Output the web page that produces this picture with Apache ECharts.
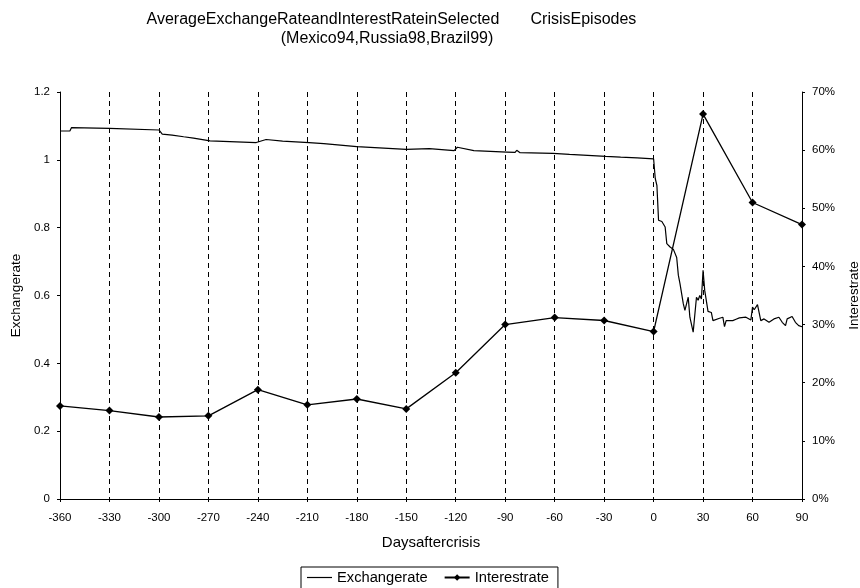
<!DOCTYPE html>
<html>
<head>
<meta charset="utf-8">
<title>Average Exchange Rate and Interest Rate</title>
<script src="https://cdn.jsdelivr.net/npm/echarts@6/dist/echarts.min.js"></script>
<style>
    html, body { margin: 0; padding: 0; background: #fff; }
    #chart { width: 860px; height: 588px; }
</style>
</head>
<body>
<div id="chart"></div>
<script>
// 数据
var dayTicks = [-360, -330, -300, -270, -240, -210, -180, -150, -120, -90, -60, -30, 0, 30, 60, 90];
var interestRate = [16.0, 15.2, 14.1, 14.3, 18.8, 16.2, 17.2, 15.5, 21.7, 30.0, 31.2, 30.7, 28.8, 66.2, 51.0, 47.2];

var excDays = [-360, -354, -353, -330, -300, -298, -292, -285, -279, -269, -241, -235, -225, -209, -200,
    -180, -150, -136, -121, -119, -109, -89, -84, -83, -81, -61, -51, -29, -20, -10, 0,
    1, 2, 3, 5, 7, 8, 10, 12, 14, 15, 16, 18, 19, 21, 22, 24, 26, 27, 28, 29, 30, 31, 33, 35, 36,
    40, 42, 43, 44, 48, 50, 52, 56, 59, 60, 61, 63, 65, 67, 70, 73, 76, 78, 80, 81, 84, 86, 88, 90];
var excRate = [1.085, 1.085, 1.095, 1.093, 1.088, 1.076, 1.073, 1.068, 1.064, 1.056, 1.051, 1.060, 1.055, 1.051, 1.048,
    1.039, 1.031, 1.033, 1.027, 1.037, 1.027, 1.023, 1.022, 1.028, 1.021, 1.019, 1.016, 1.010, 1.008, 1.006, 1.003,
    0.945, 0.925, 0.822, 0.818, 0.802, 0.753, 0.743, 0.736, 0.712, 0.660, 0.635, 0.576, 0.556, 0.595, 0.536, 0.492, 0.595, 0.586, 0.600, 0.590, 0.674, 0.615, 0.553, 0.550, 0.526,
    0.533, 0.536, 0.508, 0.526, 0.526, 0.530, 0.534, 0.536, 0.528, 0.566, 0.558, 0.573, 0.526, 0.531, 0.521, 0.531, 0.536, 0.521, 0.511, 0.531, 0.538, 0.521, 0.511, 0.508];

var leftTicks = ['0', '0.2', '0.4', '0.6', '0.8', '1', '1.2'];

function pairs(xs, ys) {
    var out = [];
    for (var i = 0; i < xs.length; i++) {
        out.push([xs[i], ys[i]]);
    }
    return out;
}

var FONT = 'Liberation Sans';

var myChart = echarts.init(document.getElementById('chart'), null, { renderer: 'canvas' });
var option = {
    animation: false,
    backgroundColor: '#fff',
    textStyle: { fontFamily: FONT, color: '#000' },
    title: {
        text: '  AverageExchangeRateandInterestRateinSelected       CrisisEpisodes\n(Mexico94,Russia98,Brazil99)',
        left: 382,
        top: 5,
        textAlign: 'center',
        textStyle: { fontFamily: FONT, fontSize: 16, fontWeight: 'normal', color: '#000', lineHeight: 19 }
    },
    legend: {
        data: [
            { name: 'Exchangerate', icon: 'path://M0,0H25V1.2H0Z' },
            { name: 'Interestrate' }
        ],
        left: 301,
        top: 567,
        padding: [3, 9, 10, 6],
        borderColor: '#000',
        borderWidth: 1,
        itemWidth: 25,
        itemHeight: 8,
        itemGap: 16,
        textStyle: { fontFamily: FONT, fontSize: 14.7, color: '#000' }
    },
    grid: {
        left: 60,
        right: 58,
        top: 92,
        bottom: 89,
        outerBoundsMode: 'none'
    },
    xAxis: {
        type: 'value',
        min: -360,
        max: 90,
        interval: 30,
        name: 'Daysaftercrisis',
        nameLocation: 'middle',
        nameGap: 36,
        nameTextStyle: { fontFamily: FONT, fontSize: 15, color: '#000' },
        axisLine: { onZero: false, lineStyle: { color: '#000', width: 1 } },
        axisTick: { length: 3, lineStyle: { color: '#000' } },
        axisLabel: { fontFamily: FONT, fontSize: 11.5, color: '#000', margin: 13 },
        splitLine: { show: true, lineStyle: { color: '#000', type: [5, 4], width: 1 } }
    },
    yAxis: [
        {
            type: 'value',
            min: 0,
            max: 1.2,
            interval: 0.2,
            name: 'Exchangerate',
            nameLocation: 'middle',
            nameGap: 33,
            nameTextStyle: { fontFamily: FONT, fontSize: 13.5, color: '#000' },
            axisLine: { show: true, onZero: false, lineStyle: { color: '#000', width: 1 } },
            axisTick: { show: true, length: 3, lineStyle: { color: '#000' } },
            axisLabel: {
                fontFamily: FONT, fontSize: 11.5, color: '#000', margin: 10,
                formatter: function (v) { return leftTicks[Math.round(v / 0.2)]; }
            },
            splitLine: { show: false }
        },
        {
            type: 'value',
            min: 0,
            max: 70,
            interval: 10,
            position: 'right',
            name: 'Interestrate',
            nameLocation: 'middle',
            nameGap: 45,
            nameTextStyle: { fontFamily: FONT, fontSize: 13.5, color: '#000' },
            axisLine: { show: true, onZero: false, lineStyle: { color: '#000', width: 1 } },
            axisTick: { show: true, length: 3, lineStyle: { color: '#000' } },
            axisLabel: { fontFamily: FONT, fontSize: 11.5, color: '#000', margin: 10, formatter: '{value}%' },
            splitLine: { show: false }
        }
    ],
    series: [
        {
            name: 'Exchangerate',
            type: 'line',
            yAxisIndex: 0,
            symbol: 'none',
            data: pairs(excDays, excRate),
            lineStyle: { color: '#000', width: 1.2 },
            itemStyle: { color: '#000' }
        },
        {
            name: 'Interestrate',
            type: 'line',
            yAxisIndex: 1,
            symbol: 'diamond',
            symbolSize: 8,
            data: pairs(dayTicks, interestRate),
            lineStyle: { color: '#000', width: 1.3 },
            itemStyle: { color: '#000' }
        }
    ]
};
myChart.setOption(option);
</script>
</body>
</html>
